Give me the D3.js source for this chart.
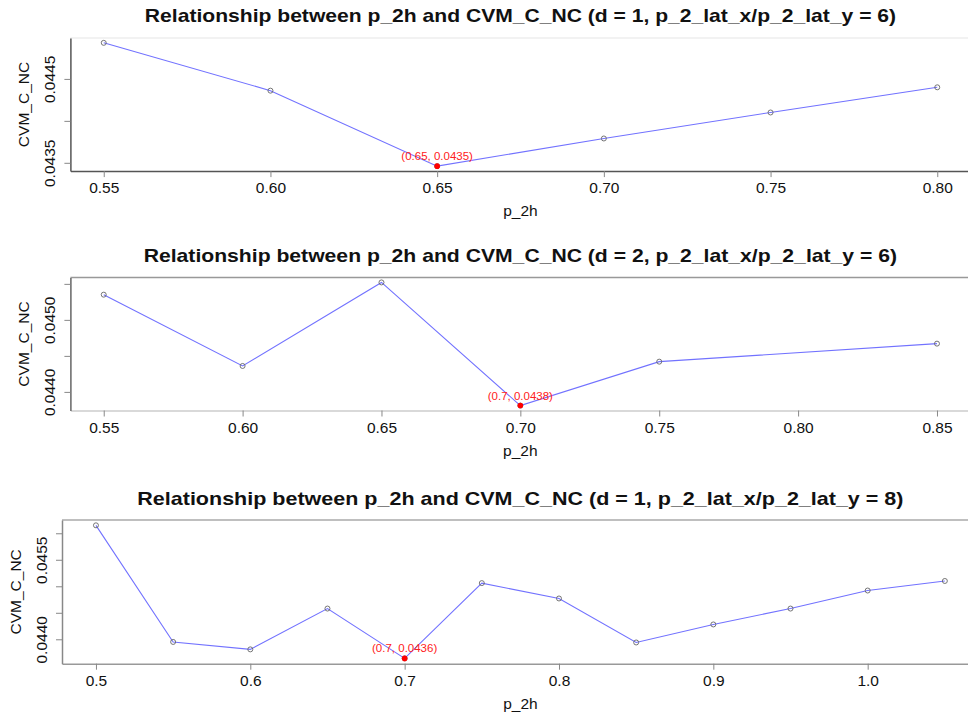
<!DOCTYPE html>
<html>
<head>
<meta charset="utf-8">
<script src="https://cdn.jsdelivr.net/npm/d3@7"></script>
<style>
  body { margin: 0; background: #fff; }
  svg { display: block; }
  text { font-family: "Liberation Sans", Arial, Helvetica, sans-serif; }
</style>
</head>
<body>
<svg id="chart" width="968" height="722"></svg>
<script>
// CVM_C_NC against p_2h, d = 1, lat ratio 6
const p2hD1R6 = [0.55, 0.60, 0.65, 0.70, 0.75, 0.80];
const cvmD1R6 = [0.04493, 0.04436, 0.04346, 0.04379, 0.04410, 0.04440];
const xTicksD1R6 = [0.55, 0.60, 0.65, 0.70, 0.75, 0.80];
const xLabelsD1R6 = ["0.55", "0.60", "0.65", "0.70", "0.75", "0.80"];
const yTicksD1R6 = [0.0435, 0.0440, 0.0445];
const yLabelsD1R6 = ["0.0435", "", "0.0445"];

// CVM_C_NC against p_2h, d = 2, lat ratio 6
const p2hD2R6 = [0.55, 0.60, 0.65, 0.70, 0.75, 0.85];
const cvmD2R6 = [0.04535, 0.04436, 0.04552, 0.04381, 0.04442, 0.04467];
const xTicksD2R6 = [0.55, 0.60, 0.65, 0.70, 0.75, 0.80, 0.85];
const xLabelsD2R6 = ["0.55", "0.60", "0.65", "0.70", "0.75", "0.80", "0.85"];
const yTicksD2R6 = [0.0440, 0.0445, 0.0450, 0.0455];
const yLabelsD2R6 = ["0.0440", "", "0.0450", ""];

// CVM_C_NC against p_2h, d = 1, lat ratio 8
const p2hD1R8 = [0.50, 0.55, 0.60, 0.65, 0.70, 0.75, 0.80, 0.85, 0.90, 0.95, 1.00, 1.05];
const cvmD1R8 = [0.04615, 0.04395, 0.04381, 0.04458, 0.04364, 0.04506, 0.04477, 0.04394, 0.04428, 0.04458, 0.04492, 0.04510];
const xTicksD1R8 = [0.5, 0.6, 0.7, 0.8, 0.9, 1.0];
const xLabelsD1R8 = ["0.5", "0.6", "0.7", "0.8", "0.9", "1.0"];
const yTicksD1R8 = [0.0440, 0.0445, 0.0450, 0.0455, 0.0460];
const yLabelsD1R8 = ["0.0440", "", "", "0.0455", ""];

const panels = [
  {
    title: "Relationship between p_2h and CVM_C_NC (d = 1, p_2_lat_x/p_2_lat_y = 6)",
    xs: p2hD1R6, ys: cvmD1R6,
    xTicks: xTicksD1R6, xLabels: xLabelsD1R6, yTicks: yTicksD1R6, yLabels: yLabelsD1R6,
    box: { left: 70.4, right: 970.6, top: 37.9, bottom: 171.1 },
    titleStretch: 1.11,
    frame: { left: "#555", bottom: "#555", top: "#eee" }
  },
  {
    title: "Relationship between p_2h and CVM_C_NC (d = 2, p_2_lat_x/p_2_lat_y = 6)",
    xs: p2hD2R6, ys: cvmD2R6,
    xTicks: xTicksD2R6, xLabels: xLabelsD2R6, yTicks: yTicksD2R6, yLabels: yLabelsD2R6,
    box: { left: 70.4, right: 970.3, top: 277.5, bottom: 410.5 },
    titleStretch: 1.113,
    frame: { left: "#666", bottom: "#ccc", top: "#999" }
  },
  {
    title: "Relationship between p_2h and CVM_C_NC (d = 1, p_2_lat_x/p_2_lat_y = 8)",
    xs: p2hD1R8, ys: cvmD1R8,
    xTicks: xTicksD1R8, xLabels: xLabelsD1R8, yTicks: yTicksD1R8, yLabels: yLabelsD1R8,
    box: { left: 62, right: 978.8, top: 520, bottom: 663.7 },
    titleStretch: 1.132,
    frame: { left: "#888", bottom: "#999", top: "#aaa" }
  }
];

const svg = d3.select("#chart");

// R-style axis range: data extent widened by 4% on each side
function padded(values) {
  const [lo, hi] = d3.extent(values);
  const pad = (hi - lo) * 0.04;
  return [lo - pad, hi + pad];
}

panels.forEach(p => {
  const b = p.box;
  const x = d3.scaleLinear().domain(padded(p.xs)).range([b.left, b.right]);
  const y = d3.scaleLinear().domain(padded(p.ys)).range([b.bottom, b.top]);
  const g = svg.append("g");

  // light top edge of the plot frame
  g.append("line")
    .attr("x1", b.left).attr("x2", b.right)
    .attr("y1", b.top).attr("y2", b.top)
    .attr("stroke", p.frame.top).attr("stroke-width", 1.5);

  // x axis
  const xa = g.append("g")
    .attr("transform", `translate(0,${b.bottom})`)
    .call(d3.axisBottom(x)
      .tickValues(p.xTicks)
      .tickFormat((d, i) => p.xLabels[i])
      .tickSizeInner(6).tickSizeOuter(0));
  xa.select(".domain").attr("stroke", p.frame.bottom).attr("stroke-width", 1.5);
  xa.selectAll(".tick line").attr("stroke", "#888");
  xa.selectAll(".tick text")
    .attr("y", 22).attr("dy", null)
    .attr("font-size", 15.5).attr("fill", "#111")
    .style("font-family", "'Liberation Sans', Arial, sans-serif");

  // y axis with labels running along the axis
  const ya = g.append("g")
    .attr("transform", `translate(${b.left},0)`)
    .call(d3.axisLeft(y)
      .tickValues(p.yTicks)
      .tickFormat((d, i) => p.yLabels[i])
      .tickSizeInner(6).tickSizeOuter(0));
  ya.select(".domain").attr("stroke", p.frame.left).attr("stroke-width", 1.5);
  ya.selectAll(".tick line").attr("stroke", "#888");
  ya.selectAll(".tick text")
    .attr("x", null).attr("dy", null)
    .attr("transform", "translate(-15,0) rotate(-90)")
    .attr("text-anchor", "middle")
    .attr("font-size", 15.5).attr("fill", "#111")
    .style("font-family", "'Liberation Sans', Arial, sans-serif");

  // title, widened slightly
  const title = g.append("text")
    .attr("x", (b.left + b.right) / 2).attr("y", b.top - 15.5)
    .attr("text-anchor", "middle")
    .attr("font-size", 19).attr("font-weight", "bold").attr("fill", "#111")
    .text(p.title);
  const natural = title.node().getComputedTextLength();
  title.attr("textLength", natural * p.titleStretch)
    .attr("lengthAdjust", "spacingAndGlyphs");

  // axis titles
  g.append("text")
    .attr("x", (b.left + b.right) / 2).attr("y", b.bottom + 45)
    .attr("text-anchor", "middle")
    .attr("font-size", 15.5).attr("fill", "#111")
    .text("p_2h");
  g.append("text")
    .attr("transform", `translate(${b.left - 41},${(b.top + b.bottom) / 2}) rotate(-90)`)
    .attr("text-anchor", "middle")
    .attr("font-size", 15.5).attr("fill", "#111")
    .text("CVM_C_NC");

  const pts = p.xs.map((v, i) => ({ x: v, y: p.ys[i] }));

  // connecting line
  g.append("path")
    .datum(pts)
    .attr("fill", "none")
    .attr("stroke", "#7272ff")
    .attr("stroke-width", 1.1)
    .attr("d", d3.line().x(d => x(d.x)).y(d => y(d.y)));

  // open point markers
  g.selectAll("circle.pt")
    .data(pts)
    .join("circle")
    .attr("class", "pt")
    .attr("cx", d => x(d.x)).attr("cy", d => y(d.y))
    .attr("r", 2.5)
    .attr("fill", "none")
    .attr("stroke", "#666")
    .attr("stroke-width", 0.9);

  // minimum highlighted in red with its coordinates
  const minPt = pts[d3.minIndex(pts, d => d.y)];
  g.append("circle")
    .attr("cx", x(minPt.x)).attr("cy", y(minPt.y))
    .attr("r", 2.8)
    .attr("fill", "red");
  g.append("text")
    .attr("x", x(minPt.x)).attr("y", y(minPt.y) - 6)
    .attr("text-anchor", "middle")
    .attr("font-size", 11.5).attr("fill", "#ff2020")
    .text(`(${String(minPt.x)}, ${minPt.y.toFixed(4)})`);
});
</script>
</body>
</html>
